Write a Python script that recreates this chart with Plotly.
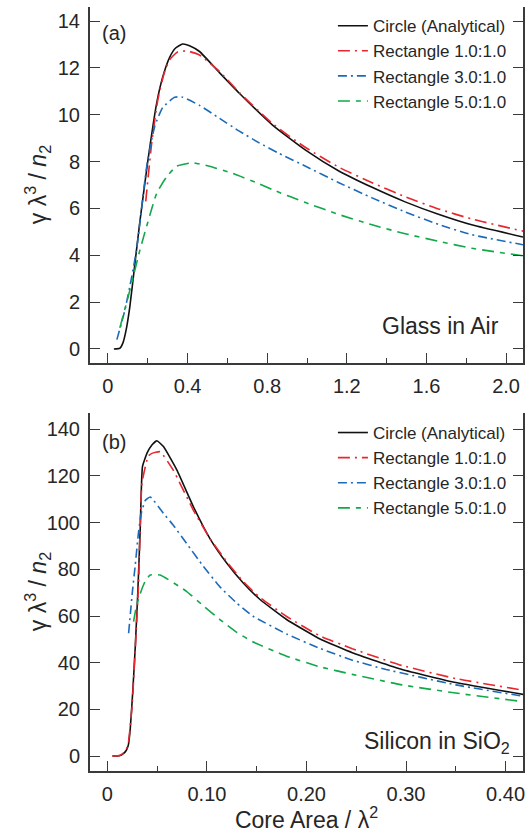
import plotly.graph_objects as go

# ---------------- data: panel (a) Glass in Air ----------------
a_circle_x = [0.03, 0.06, 0.075, 0.09, 0.11, 0.135, 0.16, 0.2, 0.245, 0.275, 0.31, 0.34, 0.375, 0.41, 0.46, 0.56, 0.66, 0.827, 0.993, 1.16, 1.327, 1.493, 1.66, 1.827, 2.085]
a_circle_y = [0.0, 0.03, 0.25, 0.75, 1.8, 3.6, 5.4, 8.0, 10.5, 11.6, 12.45, 12.85, 13.02, 12.95, 12.7, 11.8, 10.92, 9.56, 8.49, 7.6, 6.9, 6.28, 5.75, 5.3, 4.78]

a_rect1_x = [0.19, 0.22, 0.25, 0.28, 0.31, 0.35, 0.40, 0.46, 0.56, 0.66, 0.827, 0.993, 1.16, 1.327, 1.493, 1.66, 1.827, 2.085]
a_rect1_y = [6.3, 8.8, 10.6, 11.7, 12.35, 12.68, 12.72, 12.55, 11.85, 10.95, 9.62, 8.6, 7.76, 7.1, 6.5, 5.98, 5.55, 5.03]

a_rect3_x = [0.045, 0.085, 0.12, 0.145, 0.195, 0.235, 0.275, 0.335, 0.375, 0.46, 0.56, 0.66, 0.76, 0.86, 0.993, 1.16, 1.327, 1.493, 1.66, 1.827, 2.085]
a_rect3_y = [0.4, 1.65, 3.1, 4.3, 7.8, 9.5, 10.3, 10.75, 10.75, 10.4, 9.85, 9.3, 8.8, 8.35, 7.8, 7.1, 6.45, 5.85, 5.32, 4.88, 4.45]

a_rect5_x = [0.06, 0.11, 0.16, 0.2, 0.245, 0.295, 0.345, 0.425, 0.51, 0.625, 0.76, 0.827, 0.993, 1.16, 1.327, 1.493, 1.66, 1.827, 2.085]
a_rect5_y = [0.9, 2.5, 4.2, 5.4, 6.65, 7.35, 7.8, 7.95, 7.8, 7.5, 7.05, 6.8, 6.25, 5.74, 5.3, 4.92, 4.6, 4.3, 3.98]

# ---------------- data: panel (b) Silicon in SiO2 ----------------
b_circle_x = [0.005, 0.012, 0.016, 0.019, 0.021, 0.023, 0.0255, 0.028, 0.0305, 0.033, 0.0352, 0.040, 0.0447, 0.0497, 0.0563, 0.0697, 0.0863, 0.103, 0.12, 0.136, 0.153, 0.18, 0.213, 0.246, 0.296, 0.35, 0.418]
b_circle_y = [0.0, 0.1, 1.0, 2.5, 4.7, 12, 28, 47, 70, 98, 124, 130, 133.3, 135.1, 132.6, 122.6, 106.9, 93.2, 82.6, 74.4, 67.2, 58.5, 50.3, 44.3, 37.1, 31.5, 26.4]

b_rect1_x = [0.005, 0.012, 0.016, 0.019, 0.021, 0.0247, 0.028, 0.0313, 0.0347, 0.041, 0.0447, 0.053, 0.066, 0.0863, 0.103, 0.12, 0.136, 0.153, 0.18, 0.213, 0.246, 0.296, 0.35, 0.418]
b_rect1_y = [0.0, 0.2, 1.3, 3.0, 5.5, 21, 46, 74, 117, 128.5, 129.7, 130.4, 122.6, 105.4, 93.2, 83.2, 75.0, 68.0, 59.8, 51.6, 46.0, 38.8, 33.2, 28.2]

b_rect3_x = [0.0213, 0.025, 0.028, 0.031, 0.034, 0.038, 0.043, 0.0563, 0.066, 0.0797, 0.096, 0.113, 0.13, 0.146, 0.18, 0.213, 0.246, 0.28, 0.35, 0.418]
b_rect3_y = [52.6, 70, 82, 95, 104, 109.5, 111, 104, 99, 91, 81.5, 72.5, 65.5, 60, 52.3, 46.2, 41.1, 37.1, 30.5, 25.6]

b_rect5_x = [0.0263, 0.029, 0.033, 0.038, 0.043, 0.053, 0.0797, 0.096, 0.113, 0.13, 0.146, 0.18, 0.213, 0.246, 0.296, 0.35, 0.418]
b_rect5_y = [57.6, 64, 69.7, 75, 77.6, 77.6, 70.5, 64.5, 58.5, 53.0, 49.0, 42.8, 38.3, 35.0, 30.5, 27.0, 23.3]

series_names = ["Circle (Analytical)", "Rectangle 1.0:1.0", "Rectangle 3.0:1.0", "Rectangle 5.0:1.0"]
series_colors = ["#111111", "#E8262E", "#1C6BB8", "#12A84A"]
series_dash = ["solid", "12px,5px,2px,5px", "9px,4px,2px,4px", "12px,6px,5px,6px"]

a_xticks = [0, 0.4, 0.8, 1.2, 1.6, 2.0]
a_xticktext = ["0", "0.4", "0.8", "1.2", "1.6", "2.0"]
a_yticks = [0, 2, 4, 6, 8, 10, 12, 14]
b_xticks = [0, 0.1, 0.2, 0.3, 0.4]
b_xticktext = ["0", "0.10", "0.20", "0.30", "0.40"]
b_yticks = [0, 20, 40, 60, 80, 100, 120, 140]

FONT = "Liberation Sans, Arial, Helvetica, sans-serif"
TXT = "#262626"
AX = "#3a3a3a"

fig = go.Figure()

a_sets = [(a_circle_x, a_circle_y), (a_rect1_x, a_rect1_y), (a_rect3_x, a_rect3_y), (a_rect5_x, a_rect5_y)]
b_sets = [(b_circle_x, b_circle_y), (b_rect1_x, b_rect1_y), (b_rect3_x, b_rect3_y), (b_rect5_x, b_rect5_y)]

for i, (xs, ys) in enumerate(a_sets):
    fig.add_trace(go.Scatter(x=xs, y=ys, mode="lines", name=series_names[i],
                             line=dict(color=series_colors[i], width=1.6, dash=series_dash[i],
                                       shape="spline", smoothing=0.5),
                             xaxis="x", yaxis="y", legend="legend"))
for i, (xs, ys) in enumerate(b_sets):
    fig.add_trace(go.Scatter(x=xs, y=ys, mode="lines", name=series_names[i],
                             line=dict(color=series_colors[i], width=1.6, dash=series_dash[i],
                                       shape="spline", smoothing=0.4),
                             xaxis="x2", yaxis="y2", legend="legend2"))

tickfont = dict(family=FONT, size=20, color=TXT)
common_x = dict(showline=True, linecolor=AX, linewidth=2, ticks="inside", ticklen=10,
                tickwidth=1.3, tickcolor=AX, showgrid=False, zeroline=False,
                tickfont=tickfont, ticklabelstandoff=4)
common_y = dict(showline=True, linecolor=AX, linewidth=2, ticks="inside", ticklen=10,
                tickwidth=1.3, tickcolor=AX, showgrid=False, zeroline=False, mirror="ticks",
                tickfont=tickfont, ticklabelstandoff=4)

top_dom = [0.534, 1.0]
bot_dom = [0.0, 0.4686]
a_xr = [-0.09, 2.085]
b_xr = [-0.0175, 0.4175]

legend_font = dict(family=FONT, size=17, color=TXT)

fig.update_layout(
    width=526, height=833,
    margin=dict(l=90, r=1, t=7, b=62),
    paper_bgcolor="white", plot_bgcolor="white",
    font=dict(family=FONT, color=TXT),
    xaxis=dict(common_x, domain=[0, 1], anchor="y", range=a_xr,
               tickvals=a_xticks, ticktext=a_xticktext,
               minor=dict(dtick=0.2, tick0=0, ticks="inside", ticklen=5, tickwidth=1.3, tickcolor=AX)),
    yaxis=dict(common_y, domain=top_dom, anchor="x", range=[-0.6, 14.6], tickvals=a_yticks),
    xaxis2=dict(common_x, domain=[0, 1], anchor="y2", range=b_xr,
                tickvals=b_xticks, ticktext=b_xticktext,
                minor=dict(dtick=0.05, tick0=0, ticks="inside", ticklen=5, tickwidth=1.3, tickcolor=AX),
                title=dict(text="Core Area / λ<sup>2</sup>", font=dict(family=FONT, size=23, color=TXT), standoff=6)),
    yaxis2=dict(common_y, domain=bot_dom, anchor="x2", range=[-6.4, 147], tickvals=b_yticks),
    xaxis3=dict(overlaying="x", anchor="y", side="top", range=a_xr, showline=True, linecolor=AX,
                linewidth=2, ticks="inside", ticklen=6, tickwidth=1.3, tickcolor=AX, dtick=0.2, tick0=0,
                showticklabels=False, showgrid=False, zeroline=False),
    xaxis4=dict(overlaying="x2", anchor="y2", side="top", range=b_xr, showline=True, linecolor=AX,
                linewidth=2, ticks="inside", ticklen=7, tickwidth=1.3, tickcolor=AX, dtick=0.05, tick0=0,
                showticklabels=False, showgrid=False, zeroline=False),
    legend=dict(x=0.561, xanchor="left", y=0.9985, yanchor="top", bgcolor="rgba(0,0,0,0)",
                font=legend_font, tracegroupgap=0, itemwidth=30),
    legend2=dict(x=0.561, xanchor="left", y=0.466, yanchor="top", bgcolor="rgba(0,0,0,0)",
                 font=legend_font, tracegroupgap=0, itemwidth=30),
    showlegend=True,
)

ann_font = dict(family=FONT, size=23, color=TXT)
fig.add_annotation(text="(a)", xref="x domain", yref="y domain", x=0.023, y=0.927,
                   xanchor="left", yanchor="middle", showarrow=False, font=dict(family=FONT, size=20, color=TXT))
fig.add_annotation(text="(b)", xref="x2 domain", yref="y2 domain", x=0.023, y=0.92,
                   xanchor="left", yanchor="middle", showarrow=False, font=dict(family=FONT, size=20, color=TXT))
fig.add_annotation(text="Glass in Air", xref="x domain", yref="y domain", x=0.949, y=0.105,
                   xanchor="right", yanchor="middle", showarrow=False, font=ann_font)
fig.add_annotation(text="Silicon in SiO<sub>2</sub>", xref="x2 domain", yref="y2 domain", x=0.975, y=0.08,
                   xanchor="right", yanchor="middle", showarrow=False, font=ann_font)

ytitle = "γ λ<sup>3</sup> / <i>n</i><sub>2</sub>"
fig.add_annotation(text=ytitle, xref="paper", yref="y domain", x=-0.122, y=0.5,
                   xanchor="center", yanchor="middle", textangle=-90, showarrow=False, font=ann_font)
fig.add_annotation(text=ytitle, xref="paper", yref="y2 domain", x=-0.122, y=0.5,
                   xanchor="center", yanchor="middle", textangle=-90, showarrow=False, font=ann_font)

fig.write_html("out.html")
